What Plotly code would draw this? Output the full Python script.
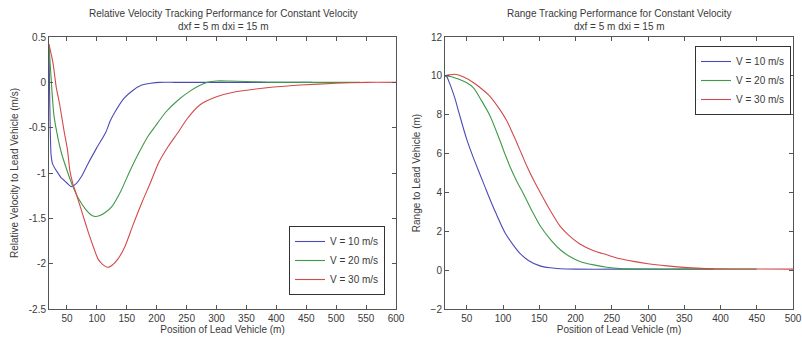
import plotly.graph_objects as go

# ---------------- data ----------------
series_names = ["V = 10 m/s", "V = 20 m/s", "V = 30 m/s"]
series_colors = ["#4b4bb5", "#3f9a48", "#d24a4a"]

# Relative velocity (left panel)
vel_x_v10 = [20, 21, 22, 23.5, 26, 30, 35, 40, 45, 50, 57, 65, 75, 85, 100, 115, 122, 130, 145,
             160, 175, 190, 205, 230, 260, 300, 350, 400, 460]
vel_y_v10 = [0.4, -0.1, -0.5, -0.8, -0.9, -0.95, -1.0, -1.05, -1.08, -1.11, -1.15, -1.12, -1.03,
             -0.9, -0.72, -0.55, -0.43, -0.33, -0.18, -0.09, -0.03, -0.01, 0.0, 0.0, 0.0, 0.0, 0.0,
             0.0, 0.0]

vel_x_v20 = [20, 22, 25, 28, 33, 40, 50, 60, 70, 80, 90, 97, 105, 115, 125, 140, 155, 170, 185,
             197, 215, 235, 255, 270, 285, 300, 320, 350, 400, 460, 540]
vel_y_v20 = [0.42, 0.2, -0.1, -0.35, -0.55, -0.76, -0.97, -1.15, -1.29, -1.39, -1.46, -1.48,
             -1.47, -1.43, -1.37, -1.2, -0.98, -0.78, -0.6, -0.49, -0.33, -0.2, -0.1, -0.04, 0.0,
             0.015, 0.015, 0.01, 0.0, 0.0, 0.0]

vel_x_v30 = [20, 24, 27, 32, 38, 45, 51, 55, 60, 66, 76, 86, 95, 102, 110, 118, 125, 135, 147,
             160, 175, 190, 203, 220, 236, 250, 272, 300, 328, 384, 440, 500, 550, 600]
vel_y_v30 = [0.42, 0.3, 0.2, -0.05, -0.25, -0.53, -0.75, -0.98, -1.12, -1.24, -1.45, -1.66,
             -1.83, -1.95, -2.01, -2.04, -2.02, -1.95, -1.81, -1.58, -1.33, -1.1, -0.89, -0.7,
             -0.55, -0.41, -0.25, -0.16, -0.11, -0.06, -0.03, -0.01, 0.0, 0.0]

# Range (right panel)
rng_x_v10 = [20, 22, 26, 30, 34, 40, 50, 60, 68, 75, 82, 90, 103, 113, 123, 135, 151, 165, 179,
             200, 250, 300, 390]
rng_y_v10 = [10.0, 9.98, 9.65, 9.25, 8.8, 8.0, 6.73, 5.7, 4.95, 4.3, 3.65, 2.95, 1.91, 1.35,
             0.88, 0.5, 0.22, 0.12, 0.07, 0.05, 0.05, 0.05, 0.05]

rng_x_v20 = [20, 28, 35, 41, 50, 59, 70, 82, 95, 103, 110, 120, 128, 140, 151, 165, 179, 192,
             206, 225, 243, 262, 290, 350, 450]
rng_y_v20 = [10.0, 9.97, 9.88, 9.8, 9.65, 9.4, 8.75, 7.95, 6.75, 5.95, 5.3, 4.5, 3.95, 3.05, 2.3,
             1.6, 1.05, 0.7, 0.45, 0.27, 0.15, 0.08, 0.05, 0.05, 0.05]

rng_x_v30 = [20, 26, 34, 45, 59, 70, 82, 95, 105, 115, 126, 133, 142, 151, 165, 179, 192, 206,
             225, 243, 260, 280, 300, 326, 354, 380, 420, 500]
rng_y_v30 = [10.0, 10.05, 10.08, 9.95, 9.66, 9.35, 8.95, 8.3, 7.7, 6.9, 5.95, 5.35, 4.65, 4.02,
             3.08, 2.25, 1.75, 1.35, 1.0, 0.79, 0.6, 0.45, 0.33, 0.22, 0.13, 0.08, 0.06, 0.05]

vel_xticks = [50, 100, 150, 200, 250, 300, 350, 400, 450, 500, 550, 600]
vel_yticks = [-2.5, -2, -1.5, -1, -0.5, 0, 0.5]
vel_yticklabels = ["-2.5", "-2", "-1.5", "-1", "-0.5", "0", "0.5"]
rng_xticks = [50, 100, 150, 200, 250, 300, 350, 400, 450, 500]
rng_yticks = [-2, 0, 2, 4, 6, 8, 10, 12]

# ---------------- figure ----------------
W, H = 802, 343
FONT = "Liberation Sans, Arial, sans-serif"
TXT = "#3a3a3a"
AX = "#555555"

fig = go.Figure()

vel_series = [(vel_x_v10, vel_y_v10), (vel_x_v20, vel_y_v20), (vel_x_v30, vel_y_v30)]
rng_series = [(rng_x_v10, rng_y_v10), (rng_x_v20, rng_y_v20), (rng_x_v30, rng_y_v30)]

for (xs, ys), name, col in zip(vel_series, series_names, series_colors):
    fig.add_trace(go.Scatter(x=xs, y=ys, mode="lines", name=name,
                             line=dict(color=col, width=1.1, shape="spline", smoothing=0.6),
                             xaxis="x", yaxis="y", legend="legend"))
for (xs, ys), name, col in zip(rng_series, series_names, series_colors):
    fig.add_trace(go.Scatter(x=xs, y=ys, mode="lines", name=name,
                             line=dict(color=col, width=1.1, shape="spline", smoothing=0.8),
                             xaxis="x2", yaxis="y2", legend="legend2"))

ydom = [(H - 309) / H, (H - 37) / H]

axis_common = dict(showgrid=False, zeroline=False, showline=True, linecolor=AX, linewidth=1,
                   mirror="ticks", ticks="inside", ticklen=4, tickcolor=AX,
                   tickfont=dict(family=FONT, size=10, color=TXT), automargin=False)

fig.update_layout(
    width=W, height=H,
    margin=dict(l=0, r=0, t=0, b=0),
    paper_bgcolor="white", plot_bgcolor="white",
    font=dict(family=FONT, size=10, color=TXT),
    xaxis=dict(domain=[49 / W, 396 / W], range=[20, 600], tickvals=vel_xticks,
               title=dict(text="Position of Lead Vehicle (m)", standoff=1,
                          font=dict(size=10, color=TXT)),
               anchor="y", **axis_common),
    yaxis=dict(domain=ydom, range=[-2.5, 0.5], tickvals=vel_yticks, ticktext=vel_yticklabels,
               title=dict(text="Relative Velocity to Lead Vehicle (m/s)", standoff=8,
                          font=dict(size=10, color=TXT)),
               anchor="x", **axis_common),
    xaxis2=dict(domain=[445 / W, 793 / W], range=[20, 500], tickvals=rng_xticks,
                title=dict(text="Position of Lead Vehicle (m)", standoff=1,
                           font=dict(size=10, color=TXT)),
                anchor="y2", **axis_common),
    yaxis2=dict(domain=ydom, range=[-2, 12], tickvals=rng_yticks,
                title=dict(text="Range to Lead Vehicle (m)", standoff=8,
                           font=dict(size=10, color=TXT)),
                anchor="x2", **axis_common),
    legend=dict(x=385 / W, y=(H - 295) / H, xanchor="right", yanchor="bottom",
                bgcolor="white", bordercolor="#333333", borderwidth=1,
                font=dict(family=FONT, size=10, color=TXT), tracegroupgap=0,
                itemwidth=30),
    legend2=dict(x=791 / W, y=(H - 46) / H, xanchor="right", yanchor="top",
                 bgcolor="white", bordercolor="#333333", borderwidth=1,
                 font=dict(family=FONT, size=10, color=TXT), tracegroupgap=0,
                 itemwidth=30),
    showlegend=True,
)

titles = [
    ((49 + 396) / 2 / W, "Relative Velocity Tracking Performance for Constant Velocity<br>dxf = 5 m dxi = 15 m"),
    ((445 + 793) / 2 / W, "Range Tracking Performance for Constant Velocity<br>dxf = 5 m dxi = 15 m"),
]
for xc, txt in titles:
    fig.add_annotation(x=xc, y=(H - 34) / H, xref="paper", yref="paper", text=txt,
                       showarrow=False, xanchor="center", yanchor="bottom",
                       font=dict(family=FONT, size=10, color=TXT))

fig.write_html("out.html")
